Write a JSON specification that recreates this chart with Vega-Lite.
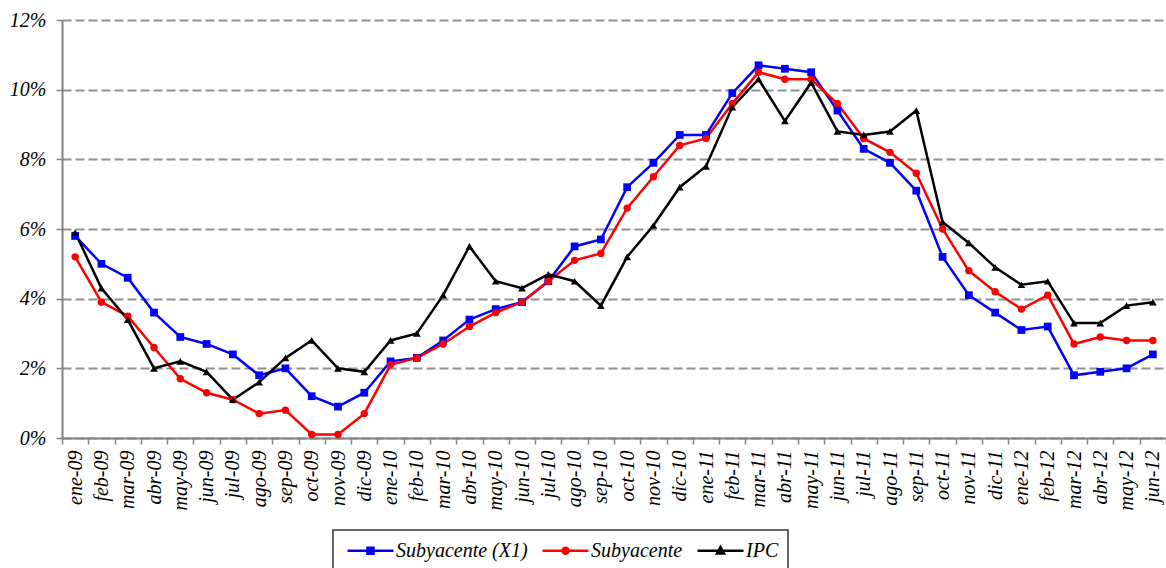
{
  "$schema": "https://vega.github.io/schema/vega-lite/v6.json",
  "width": 1104,
  "height": 418,
  "autosize": "none",
  "padding": {"left": 62, "top": 20, "right": 0, "bottom": 130},
  "background": "white",
  "config": {"view": {"stroke": null}},
  "datasets": {
    "d": [
      {"m":"ene-09","s":"Subyacente (X1)","v":5.8},{"m":"feb-09","s":"Subyacente (X1)","v":5.0},{"m":"mar-09","s":"Subyacente (X1)","v":4.6},{"m":"abr-09","s":"Subyacente (X1)","v":3.6},{"m":"may-09","s":"Subyacente (X1)","v":2.9},{"m":"jun-09","s":"Subyacente (X1)","v":2.7},{"m":"jul-09","s":"Subyacente (X1)","v":2.4},{"m":"ago-09","s":"Subyacente (X1)","v":1.8},{"m":"sep-09","s":"Subyacente (X1)","v":2.0},{"m":"oct-09","s":"Subyacente (X1)","v":1.2},{"m":"nov-09","s":"Subyacente (X1)","v":0.9},{"m":"dic-09","s":"Subyacente (X1)","v":1.3},
      {"m":"ene-10","s":"Subyacente (X1)","v":2.2},{"m":"feb-10","s":"Subyacente (X1)","v":2.3},{"m":"mar-10","s":"Subyacente (X1)","v":2.8},{"m":"abr-10","s":"Subyacente (X1)","v":3.4},{"m":"may-10","s":"Subyacente (X1)","v":3.7},{"m":"jun-10","s":"Subyacente (X1)","v":3.9},{"m":"jul-10","s":"Subyacente (X1)","v":4.5},{"m":"ago-10","s":"Subyacente (X1)","v":5.5},{"m":"sep-10","s":"Subyacente (X1)","v":5.7},{"m":"oct-10","s":"Subyacente (X1)","v":7.2},{"m":"nov-10","s":"Subyacente (X1)","v":7.9},{"m":"dic-10","s":"Subyacente (X1)","v":8.7},
      {"m":"ene-11","s":"Subyacente (X1)","v":8.7},{"m":"feb-11","s":"Subyacente (X1)","v":9.9},{"m":"mar-11","s":"Subyacente (X1)","v":10.7},{"m":"abr-11","s":"Subyacente (X1)","v":10.6},{"m":"may-11","s":"Subyacente (X1)","v":10.5},{"m":"jun-11","s":"Subyacente (X1)","v":9.4},{"m":"jul-11","s":"Subyacente (X1)","v":8.3},{"m":"ago-11","s":"Subyacente (X1)","v":7.9},{"m":"sep-11","s":"Subyacente (X1)","v":7.1},{"m":"oct-11","s":"Subyacente (X1)","v":5.2},{"m":"nov-11","s":"Subyacente (X1)","v":4.1},{"m":"dic-11","s":"Subyacente (X1)","v":3.6},
      {"m":"ene-12","s":"Subyacente (X1)","v":3.1},{"m":"feb-12","s":"Subyacente (X1)","v":3.2},{"m":"mar-12","s":"Subyacente (X1)","v":1.8},{"m":"abr-12","s":"Subyacente (X1)","v":1.9},{"m":"may-12","s":"Subyacente (X1)","v":2.0},{"m":"jun-12","s":"Subyacente (X1)","v":2.4},

      {"m":"ene-09","s":"Subyacente","v":5.2},{"m":"feb-09","s":"Subyacente","v":3.9},{"m":"mar-09","s":"Subyacente","v":3.5},{"m":"abr-09","s":"Subyacente","v":2.6},{"m":"may-09","s":"Subyacente","v":1.7},{"m":"jun-09","s":"Subyacente","v":1.3},{"m":"jul-09","s":"Subyacente","v":1.1},{"m":"ago-09","s":"Subyacente","v":0.7},{"m":"sep-09","s":"Subyacente","v":0.8},{"m":"oct-09","s":"Subyacente","v":0.1},{"m":"nov-09","s":"Subyacente","v":0.1},{"m":"dic-09","s":"Subyacente","v":0.7},
      {"m":"ene-10","s":"Subyacente","v":2.1},{"m":"feb-10","s":"Subyacente","v":2.3},{"m":"mar-10","s":"Subyacente","v":2.7},{"m":"abr-10","s":"Subyacente","v":3.2},{"m":"may-10","s":"Subyacente","v":3.6},{"m":"jun-10","s":"Subyacente","v":3.9},{"m":"jul-10","s":"Subyacente","v":4.5},{"m":"ago-10","s":"Subyacente","v":5.1},{"m":"sep-10","s":"Subyacente","v":5.3},{"m":"oct-10","s":"Subyacente","v":6.6},{"m":"nov-10","s":"Subyacente","v":7.5},{"m":"dic-10","s":"Subyacente","v":8.4},
      {"m":"ene-11","s":"Subyacente","v":8.6},{"m":"feb-11","s":"Subyacente","v":9.6},{"m":"mar-11","s":"Subyacente","v":10.5},{"m":"abr-11","s":"Subyacente","v":10.3},{"m":"may-11","s":"Subyacente","v":10.3},{"m":"jun-11","s":"Subyacente","v":9.6},{"m":"jul-11","s":"Subyacente","v":8.6},{"m":"ago-11","s":"Subyacente","v":8.2},{"m":"sep-11","s":"Subyacente","v":7.6},{"m":"oct-11","s":"Subyacente","v":6.0},{"m":"nov-11","s":"Subyacente","v":4.8},{"m":"dic-11","s":"Subyacente","v":4.2},
      {"m":"ene-12","s":"Subyacente","v":3.7},{"m":"feb-12","s":"Subyacente","v":4.1},{"m":"mar-12","s":"Subyacente","v":2.7},{"m":"abr-12","s":"Subyacente","v":2.9},{"m":"may-12","s":"Subyacente","v":2.8},{"m":"jun-12","s":"Subyacente","v":2.8},

      {"m":"ene-09","s":"IPC","v":5.9},{"m":"feb-09","s":"IPC","v":4.3},{"m":"mar-09","s":"IPC","v":3.4},{"m":"abr-09","s":"IPC","v":2.0},{"m":"may-09","s":"IPC","v":2.2},{"m":"jun-09","s":"IPC","v":1.9},{"m":"jul-09","s":"IPC","v":1.1},{"m":"ago-09","s":"IPC","v":1.6},{"m":"sep-09","s":"IPC","v":2.3},{"m":"oct-09","s":"IPC","v":2.8},{"m":"nov-09","s":"IPC","v":2.0},{"m":"dic-09","s":"IPC","v":1.9},
      {"m":"ene-10","s":"IPC","v":2.8},{"m":"feb-10","s":"IPC","v":3.0},{"m":"mar-10","s":"IPC","v":4.1},{"m":"abr-10","s":"IPC","v":5.5},{"m":"may-10","s":"IPC","v":4.5},{"m":"jun-10","s":"IPC","v":4.3},{"m":"jul-10","s":"IPC","v":4.7},{"m":"ago-10","s":"IPC","v":4.5},{"m":"sep-10","s":"IPC","v":3.8},{"m":"oct-10","s":"IPC","v":5.2},{"m":"nov-10","s":"IPC","v":6.1},{"m":"dic-10","s":"IPC","v":7.2},
      {"m":"ene-11","s":"IPC","v":7.8},{"m":"feb-11","s":"IPC","v":9.5},{"m":"mar-11","s":"IPC","v":10.3},{"m":"abr-11","s":"IPC","v":9.1},{"m":"may-11","s":"IPC","v":10.2},{"m":"jun-11","s":"IPC","v":8.8},{"m":"jul-11","s":"IPC","v":8.7},{"m":"ago-11","s":"IPC","v":8.8},{"m":"sep-11","s":"IPC","v":9.4},{"m":"oct-11","s":"IPC","v":6.2},{"m":"nov-11","s":"IPC","v":5.6},{"m":"dic-11","s":"IPC","v":4.9},
      {"m":"ene-12","s":"IPC","v":4.4},{"m":"feb-12","s":"IPC","v":4.5},{"m":"mar-12","s":"IPC","v":3.3},{"m":"abr-12","s":"IPC","v":3.3},{"m":"may-12","s":"IPC","v":3.8},{"m":"jun-12","s":"IPC","v":3.9}
    ]
  },
  "data": {"name": "d"},
  "encoding": {
    "x": {
      "field": "m", "type": "ordinal", "sort": null,
      "scale": {"type": "band", "paddingInner": 0, "paddingOuter": 0},
      "axis": {
        "title": null, "labelAngle": -90, "labelAlign": "right", "labelBaseline": "middle",
        "labelFont": "Liberation Serif", "labelFontStyle": "italic", "labelFontSize": 20, "labelColor": "black",
        "labelPadding": 6, "tickBand": "extent", "tickSize": 6, "tickColor": "#808080", "tickWidth": 1.5,
        "domainColor": "#808080", "domainWidth": 2, "grid": false
      }
    },
    "y": {
      "field": "v", "type": "quantitative",
      "scale": {"domain": [0, 12], "nice": false},
      "axis": {
        "title": null, "values": [0, 2, 4, 6, 8, 10, 12], "labelExpr": "datum.value + '%'",
        "labelFont": "Liberation Serif", "labelFontStyle": "italic", "labelFontSize": 20, "labelColor": "black",
        "labelPadding": 10, "tickSize": 6, "tickColor": "#808080", "tickWidth": 1.5,
        "domainColor": "#808080", "domainWidth": 2,
        "grid": true, "gridColor": "#909090", "gridWidth": 2, "gridDash": [9, 4]
      }
    }
  },
  "layer": [
    {
      "mark": {"type": "line", "strokeWidth": 2.5},
      "encoding": {
        "color": {
          "field": "s", "type": "nominal",
          "scale": {"domain": ["Subyacente (X1)", "Subyacente", "IPC"], "range": ["#0000FF", "#FF0000", "#000000"]},
          "legend": {
            "title": null, "orient": "none", "legendX": 271, "legendY": 510, "direction": "horizontal",
            "strokeColor": "#333333", "padding": 9, "columnPadding": 9,
            "labelFont": "Liberation Serif", "labelFontStyle": "italic", "labelFontSize": 20, "labelColor": "black",
            "symbolSize": 400, "symbolStrokeWidth": 2.5, "labelOffset": 31, "fillColor": "white",
            "encode": {
              "legend": {"update": {"strokeWidth": {"value": 1.5}}},
              "symbols": {
                "update": {
                  "shape": {"signal": "datum.value === 'IPC' ? 'M-0.6,0H4M1.7,-0.37L2.05,0.28H1.35Z' : datum.value === 'Subyacente' ? 'M-0.6,0H4M2,0A0.3,0.3 0 1 1 1.4,0A0.3,0.3 0 1 1 2,0Z' : 'M-0.6,0H4M1.4,-0.3H2V0.3H1.4Z'"},
                  "fill": {"scale": "color", "field": "value"},
                  "stroke": {"scale": "color", "field": "value"},
                  "opacity": {"value": 1}
                }
              }
            }
          }
        }
      }
    },
    {
      "transform": [{"filter": "datum.s === 'Subyacente (X1)'"}],
      "mark": {"type": "point", "filled": true, "opacity": 1, "size": 60, "shape": "square", "color": "#0000FF"}
    },
    {
      "transform": [{"filter": "datum.s === 'Subyacente'"}],
      "mark": {"type": "point", "filled": true, "opacity": 1, "size": 55, "shape": "circle", "color": "#FF0000"}
    },
    {
      "transform": [{"filter": "datum.s === 'IPC'"}],
      "mark": {"type": "point", "filled": true, "opacity": 1, "size": 60, "shape": "triangle-up", "color": "#000000"}
    }
  ]
}
